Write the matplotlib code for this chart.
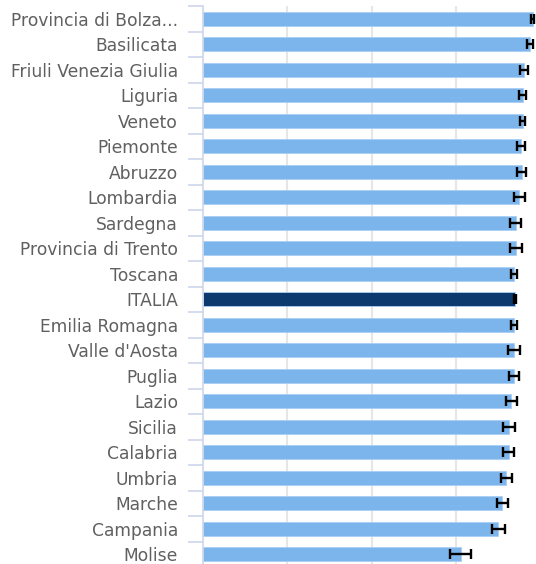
import matplotlib.pyplot as plt
import numpy as np

regions = ["Provincia di Bolza...", "Basilicata", "Friuli Venezia Giulia", "Liguria",
           "Veneto", "Piemonte", "Abruzzo", "Lombardia", "Sardegna",
           "Provincia di Trento", "Toscana", "ITALIA", "Emilia Romagna",
           "Valle d'Aosta", "Puglia", "Lazio", "Sicilia", "Calabria", "Umbria",
           "Marche", "Campania", "Molise"]
values = [97.8, 97.0, 95.3, 94.8, 94.8, 94.3, 94.5, 93.8, 92.8, 92.8, 92.3,
          92.5, 92.3, 92.3, 92.3, 91.5, 90.9, 90.7, 90.0, 88.8, 87.6, 76.4]
errors = [0.5, 1.0, 1.1, 1.0, 0.8, 1.2, 1.3, 1.6, 1.6, 1.7, 1.0,
          0.3, 1.0, 1.7, 1.5, 1.6, 1.8, 1.7, 1.7, 1.6, 2.0, 3.1]

colors = ["#0d3a6e" if r == "ITALIA" else "#7cb5ec" for r in regions]
y = np.arange(len(regions))

fig = plt.figure(figsize=(5.36, 5.64), dpi=100)
# plot area runs a bit past the bottom edge, as in the original
ax = fig.add_axes([203 / 536, -3.0 / 564, 333 / 536, 561.0 / 564])

ax.barh(y, values, height=0.56, color=colors, edgecolor="#a9cff3", linewidth=0.6, zorder=2)
ax.errorbar(values, y, xerr=errors, fmt="none", ecolor="black", elinewidth=1.7,
            capsize=3.5, capthick=1.7, zorder=3)

ax.set_xlim(0, 98.8)
ax.set_ylim(len(regions) - 0.5, -0.5)
ax.set_xticks([25, 50, 75])
ax.xaxis.grid(True, color="#e6e6e6", linewidth=1.5, zorder=0)
ax.tick_params(axis="x", length=0, labelbottom=False)

ax.set_yticks(y)
ax.set_yticklabels(regions, fontsize=12.3, color="#606060")
ax.tick_params(axis="y", which="major", length=0, pad=18)
ax.set_yticks(np.arange(len(regions) + 1) - 0.5, minor=True)
ax.tick_params(axis="y", which="minor", length=11, width=1.2, color="#ccd6eb")

for s in ["top", "right", "bottom"]:
    ax.spines[s].set_visible(False)
ax.spines["left"].set_color("#ccd6eb")
ax.spines["left"].set_linewidth(1.2)

fig.savefig("out.png", dpi=100)
